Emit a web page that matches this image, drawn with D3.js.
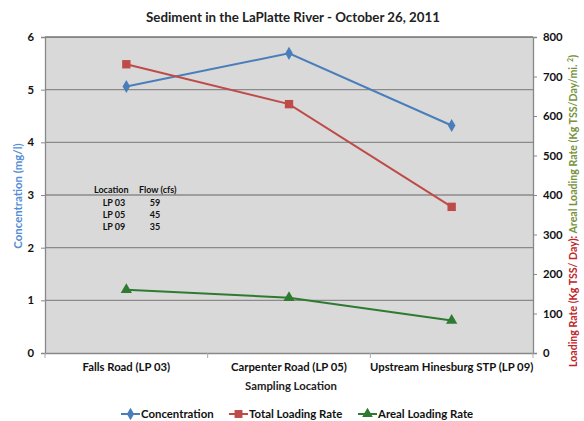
<!DOCTYPE html>
<html>
<head>
<meta charset="utf-8">
<script src="https://cdn.jsdelivr.net/npm/d3@7/dist/d3.min.js"></script>
<style>
  html, body { margin: 0; padding: 0; background: #fff; }
  svg { display: block; font-family: Lato, "Open Sans", "Liberation Sans", sans-serif; }
</style>
</head>
<body>
<svg id="chart" width="584" height="421"></svg>
<script>
// Sampling sites along the LaPlatte River
const locations = ["Falls Road (LP 03)", "Carpenter Road (LP 05)", "Upstream Hinesburg STP (LP 09)"];
// Sediment concentration, mg/l (left axis)
const concentration = [5.06, 5.69, 4.32];
// Total loading rate, Kg TSS/Day (right axis)
const totalLoading = [731, 630, 370];
// Areal loading rate, Kg TSS/Day/mi.² (right axis)
const arealLoading = [160, 140, 82];
// Flow table
const flowSites = ["LP 03", "LP 05", "LP 09"];
const flowCfs = [59, 45, 35];
// Axis ticks
const leftTicks = [0, 1, 2, 3, 4, 5, 6];
const rightTicks = [0, 100, 200, 300, 400, 500, 600, 700, 800];

const svg = d3.select("#chart");
const plot = { left: 45, right: 533, top: 37, bottom: 353 };

const x = d3.scaleBand().domain(locations).range([plot.left, plot.right]).padding(0);
const yL = d3.scaleLinear().domain([0, 6]).range([plot.bottom, plot.top]);
const yR = d3.scaleLinear().domain([0, 800]).range([plot.bottom, plot.top]);
const cx = d => x(d) + x.bandwidth() / 2;

// Title
svg.append("text").attr("x", 293).attr("y", 22).attr("text-anchor", "middle")
  .attr("font-size", 13.3).attr("font-weight", "bold").attr("fill", "#222")
  .text("Sediment in the LaPlatte River - October 26, 2011");

// Plot background
svg.append("rect").attr("x", plot.left).attr("y", plot.top)
  .attr("width", plot.right - plot.left).attr("height", plot.bottom - plot.top)
  .attr("fill", "#d9d9d9");

// Horizontal gridlines
svg.append("g").selectAll("line").data(leftTicks.slice(1)).join("line")
  .attr("x1", plot.left).attr("x2", plot.right)
  .attr("y1", d => yL(d)).attr("y2", d => yL(d))
  .attr("stroke", d => d === 6 ? "#333" : "#8a8a8a").attr("stroke-width", d => d === 6 ? 1.2 : 1.3);

// Left axis
const leftAxis = svg.append("g").attr("transform", `translate(${plot.left},0)`)
  .call(d3.axisLeft(yL).tickValues(leftTicks).tickFormat(d3.format("d")).tickSizeOuter(0).tickSize(4).tickPadding(7));
// Right axis
const rightAxis = svg.append("g").attr("transform", `translate(${plot.right},0)`)
  .call(d3.axisRight(yR).tickValues(rightTicks).tickFormat(d3.format("d")).tickSizeOuter(0).tickSize(4).tickPadding(6));
// Bottom axis: ticks between categories
const bottomAxis = svg.append("g").attr("transform", `translate(0,${plot.bottom})`)
  .call(d3.axisBottom(x).tickSize(0).tickPadding(10));

[leftAxis, rightAxis, bottomAxis].forEach(g => {
  g.select(".domain").attr("stroke", "#888").attr("stroke-width", 1.3);
  g.selectAll(".tick line").attr("stroke", "#888");
  g.selectAll("text").attr("font-size", 11.3).attr("font-weight", "bold").attr("fill", "#111")
    .attr("font-family", "Lato, 'Open Sans', sans-serif");
});
bottomAxis.append("g").selectAll("line")
  .data(locations.map(d => x(d)).concat([plot.right])).join("line")
  .attr("x1", d => d).attr("x2", d => d).attr("y1", 0).attr("y2", 5)
  .attr("stroke", "#aaa");

// Axis titles
svg.append("text").attr("x", 291).attr("y", 390).attr("text-anchor", "middle")
  .attr("font-size", 11.3).attr("font-weight", "bold").attr("fill", "#222")
  .text("Sampling Location");
svg.append("text").attr("transform", "translate(22,196) rotate(-90)").attr("text-anchor", "middle")
  .attr("font-size", 11.4).attr("font-weight", "bold").attr("fill", "#558ed5")
  .text("Concentration (mg/l)");
const rt = svg.append("text").attr("transform", "translate(577,211) rotate(-90)").attr("text-anchor", "middle")
  .attr("font-size", 10.6).attr("font-weight", "bold");
rt.append("tspan").attr("fill", "#c0262b").text("Loading Rate (Kg TSS/ Day): ");
rt.append("tspan").attr("fill", "#77933c").text("Areal Loading Rate (Kg TSS/Day/mi. ");
rt.append("tspan").attr("fill", "#77933c").attr("font-size", 7).attr("dy", -4).text("2");
rt.append("tspan").attr("fill", "#77933c").attr("dy", 4).text(")");

// Flow table
const tbl = svg.append("g").attr("font-size", 9).attr("font-weight", "bold").attr("fill", "#111");
tbl.append("text").attr("x", 94).attr("y", 193).text("Location");
tbl.append("text").attr("x", 139).attr("y", 193).text("Flow (cfs)");
tbl.selectAll("text.site").data(flowSites).join("text").attr("class", "site")
  .attr("x", 114).attr("y", (d, i) => 206 + i * 12).attr("text-anchor", "middle").text(d => d);
tbl.selectAll("text.flow").data(flowCfs).join("text").attr("class", "flow")
  .attr("x", 155).attr("y", (d, i) => 206 + i * 12).attr("text-anchor", "middle").text(d => d);

// Series
const series = [
  { name: "Concentration", values: concentration, y: yL, color: "#4a7ebb", symbol: d3.symbolDiamond, size: 50 },
  { name: "Total Loading Rate", values: totalLoading, y: yR, color: "#be4b48", symbol: d3.symbolSquare, size: 70 },
  { name: "Areal Loading Rate", values: arealLoading, y: yR, color: "#2e7a30", symbol: d3.symbolTriangle, size: 55 }
];

series.forEach(s => {
  const pts = locations.map((l, i) => [cx(l), s.y(s.values[i])]);
  svg.append("path").datum(pts).attr("fill", "none").attr("stroke", s.color).attr("stroke-width", 2)
    .attr("d", d3.line());
  svg.append("g").selectAll("path").data(pts).join("path")
    .attr("transform", d => `translate(${d[0]},${d[1]})`)
    .attr("d", d3.symbol(s.symbol, s.size)).attr("fill", s.color);
});

// Legend
const legendX = [121, 229, 358];
const lg = svg.append("g");
series.forEach((s, i) => {
  const g = lg.append("g").attr("transform", `translate(${legendX[i]},414)`);
  g.append("line").attr("x1", 0).attr("x2", 19).attr("stroke", s.color).attr("stroke-width", 2);
  g.append("path").attr("transform", "translate(9.5,0)").attr("d", d3.symbol(s.symbol, s.size * 0.9)).attr("fill", s.color);
  g.append("text").attr("x", 20).attr("y", 4).attr("font-size", 11.4).attr("font-weight", "bold").attr("fill", "#111")
    .text(s.name);
});
</script>
</body>
</html>
